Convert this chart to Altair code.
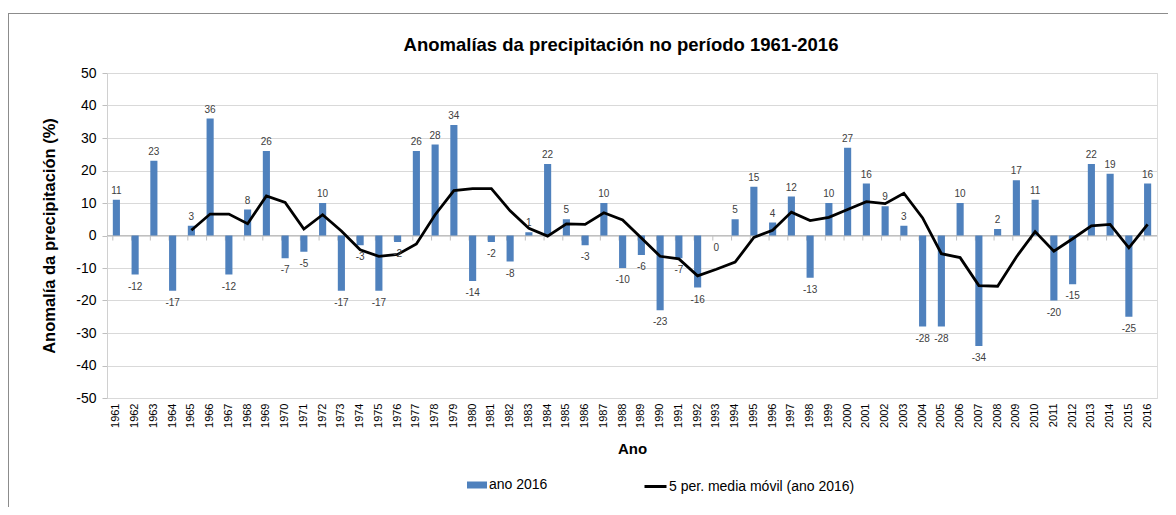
import altair as alt
import pandas as pd

# ---- data ----
years = ["1961", "1962", "1963", "1964", "1965", "1966", "1967", "1968", "1969", "1970",
         "1971", "1972", "1973", "1974", "1975", "1976", "1977", "1978", "1979", "1980",
         "1981", "1982", "1983", "1984", "1985", "1986", "1987", "1988", "1989", "1990",
         "1991", "1992", "1993", "1994", "1995", "1996", "1997", "1998", "1999", "2000",
         "2001", "2002", "2003", "2004", "2005", "2006", "2007", "2008", "2009", "2010",
         "2011", "2012", "2013", "2014", "2015", "2016"]

anomaly = [11, -12, 23, -17, 3, 36, -12, 8, 26, -7,
           -5, 10, -17, -3, -17, -2, 26, 28, 34, -14,
           -2, -8, 1, 22, 5, -3, 10, -10, -6, -23,
           -7, -16, 0, 5, 15, 4, 12, -13, 10, 27,
           16, 9, 3, -28, -28, 10, -34, 2, 17, 11,
           -20, -15, 22, 19, -25, 16]

ma_years = years[4:]
ma_values = [1.6, 6.6, 6.6, 3.6, 12.2, 10.2, 2.0, 6.4, 1.4, -4.4,
             -6.4, -5.8, -2.6, 6.4, 13.8, 14.4, 14.4, 7.6, 2.2, -0.2,
             3.6, 3.4, 7.0, 4.8, -0.8, -6.4, -7.2, -12.4, -10.4, -8.2,
             -0.6, 1.6, 7.2, 4.6, 5.6, 8.0, 10.4, 9.8, 13.0, 5.4,
             -5.6, -6.8, -15.4, -15.6, -6.6, 1.2, -4.8, -1.0, 3.0, 3.4,
             -3.8, 3.4]

y_ticks = [-50, -40, -30, -20, -10, 0, 10, 20, 30, 40, 50]

bar_series = "ano 2016"
line_series = "5 per. media móvil (ano 2016)"
title_text = "Anomalías da precipitación no período 1961-2016"
y_title = "Anomalía da precipitación (%)"
x_title = "Ano"

FONT = "Liberation Sans"
BLUE = "#4F81BD"

df = pd.DataFrame({"year": years, "value": anomaly})
df_ma = pd.DataFrame({"year": ma_years, "value": ma_values})
df_one = pd.DataFrame({"k": [0]})


def xenc(**kw):
    return alt.X(
        "year:O",
        sort=years,
        scale=alt.Scale(domain=years, paddingInner=0.62, paddingOuter=0.31),
        axis=alt.Axis(
            title=x_title, labelAngle=270, ticks=False, domain=False, grid=False,
            labelFontSize=11, labelPadding=5, labelColor="#000000", labelFont=FONT,
            titleFontSize=15, titleFontWeight="bold", titlePadding=14,
            titleColor="#000000", titleFont=FONT,
        ),
        **kw,
    )


def yaxis():
    return alt.Axis(
        title=y_title, values=y_ticks, grid=True, gridColor="#d9d9d9",
        labelExpr="toString(datum.value)",
        tickSize=5, tickColor="#bfbfbf", domainColor="#d0d0d0",
        labelFontSize=14, labelPadding=6, labelColor="#000000", labelFont=FONT,
        titleFontSize=16.5, titleFontWeight="bold", titlePadding=18,
        titleColor="#000000", titleFont=FONT,
    )


def yscale():
    return alt.Scale(domain=[-50, 50], nice=False, zero=False)


bars = (
    alt.Chart(df)
    .transform_calculate(serie=f"'{bar_series}'")
    .mark_bar()
    .encode(
        x=xenc(),
        y=alt.Y("value:Q", scale=yscale(), axis=yaxis()),
        fill=alt.Fill(
            "serie:N",
            scale=alt.Scale(domain=[bar_series], range=[BLUE]),
            legend=alt.Legend(
                title=None, orient="none", legendX=360, legendY=402,
                symbolType="M-1,-0.35L1,-0.35L1,0.35L-1,0.35Z", symbolSize=400,
                symbolStrokeWidth=0, labelFontSize=14, labelFont=FONT,
                labelColor="#000000", labelOffset=2, labelLimit=400,
            ),
        ),
    )
)

zero_rule = (
    alt.Chart(df_one)
    .mark_rule(color="#c0c0c0", strokeWidth=1)
    .encode(y=alt.Y(datum=0, scale=yscale(), axis=yaxis()))
)

zero_ticks = (
    alt.Chart(df)
    .mark_rule(color="#c0c0c0", strokeWidth=1)
    .encode(
        x=xenc(bandPosition=0),
        y=alt.Y(datum=0, scale=yscale(), axis=yaxis()),
        y2=alt.Y2(datum=-1.55),
    )
)

line = (
    alt.Chart(df_ma)
    .transform_calculate(serie=f"'{line_series}'")
    .mark_line(strokeWidth=2.8, strokeJoin="miter")
    .encode(
        x=xenc(),
        y=alt.Y("value:Q", scale=yscale(), axis=yaxis()),
        stroke=alt.Stroke(
            "serie:N",
            scale=alt.Scale(domain=[line_series], range=["#000000"]),
            legend=alt.Legend(
                title=None, orient="none", legendX=536, legendY=401,
                symbolType="stroke", symbolSize=484, symbolStrokeWidth=3,
                labelFontSize=14, labelFont=FONT, labelColor="#000000",
                labelOffset=1, labelLimit=400,
            ),
        ),
    )
)

labels_pos = (
    alt.Chart(df)
    .transform_filter("datum.value > 0")
    .mark_text(baseline="bottom", dy=-4, fontSize=10, font=FONT, color="#404040")
    .encode(x=xenc(), y=alt.Y("value:Q", scale=yscale(), axis=yaxis()),
            text=alt.Text("value:N"))
)

labels_neg = (
    alt.Chart(df)
    .transform_filter("datum.value <= 0")
    .mark_text(baseline="top", dy=7, fontSize=10, font=FONT, color="#404040")
    .encode(x=xenc(), y=alt.Y("value:Q", scale=yscale(), axis=yaxis()),
            text=alt.Text("value:N"))
)

frame_top = (
    alt.Chart(df_one)
    .mark_rule(color="#8c8c8c", strokeWidth=1)
    .encode(x=alt.value(-99), x2=alt.value(1061), y=alt.value(-59.5))
)
frame_left = (
    alt.Chart(df_one)
    .mark_rule(color="#8c8c8c", strokeWidth=1)
    .encode(x=alt.value(-98.5), y=alt.value(-60), y2=alt.value(434))
)

chart = (
    alt.layer(frame_top, frame_left, zero_rule, zero_ticks, bars, line, labels_pos, labels_neg)
    .resolve_scale(fill="independent", stroke="independent")
    .properties(
        width=1050,
        height=325,
        autosize=alt.AutoSizeParams(type="none"),
        padding={"left": 99, "top": 65, "right": 11, "bottom": 109},
        title=alt.Title(
            title_text, font=FONT, fontSize=18.5, fontWeight="bold", color="#000000",
            anchor="middle", dx=-11, offset=-42,
        ),
    )
    .configure_view(stroke="#d0d0d0", strokeWidth=1)
    .configure(background="#ffffff")
)

chart.save("out.html", embed_options={"renderer": "svg", "actions": False})
